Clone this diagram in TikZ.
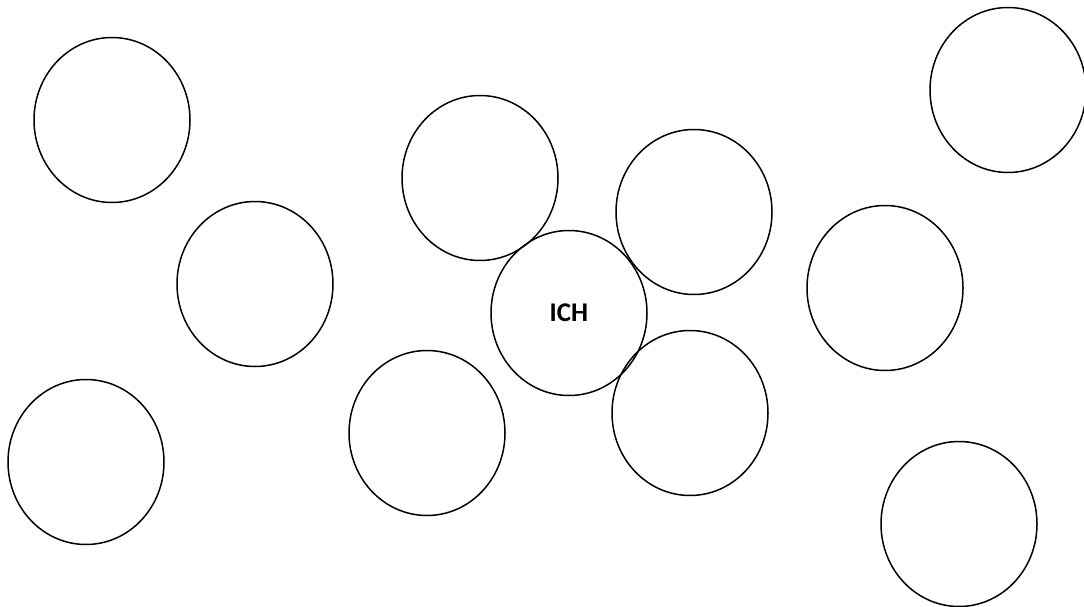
\documentclass[tikz,border=0pt]{standalone}
\usepackage{fontspec}
\setmainfont{Carlito}
\usepackage{tikz}
\usetikzlibrary{shapes.geometric}
\tikzset{
    bubble/.style={ellipse, draw=black, line width=1.5pt, inner sep=0pt, minimum width=156pt, minimum height=165pt, font=\fontsize{27}{27}\selectfont\bfseries},
}
\begin{document}
\begin{tikzpicture}[x=1pt, y=-1pt]
    \useasboundingbox (0,0) rectangle (1084,607);
    % Nodes
    \node[bubble] (topleft) at (112,120) {};
    \node[bubble] (midleft) at (255,284) {};
    \node[bubble] (lowleft) at (86,462) {};
    \node[bubble] (upper) at (480,178) {};
    \node[bubble] (lower) at (427,433) {};
    \node[bubble] (upperright) at (694,212) {};
    \node[bubble] (lowerright) at (690,413) {};
    \node[bubble] (ich) at (569,313) {ICH};
    \node[bubble] (right) at (885,288) {};
    \node[bubble] (topright) at (1008,90) {};
    \node[bubble] (bottomright) at (959,524) {};
\end{tikzpicture}
\end{document}
